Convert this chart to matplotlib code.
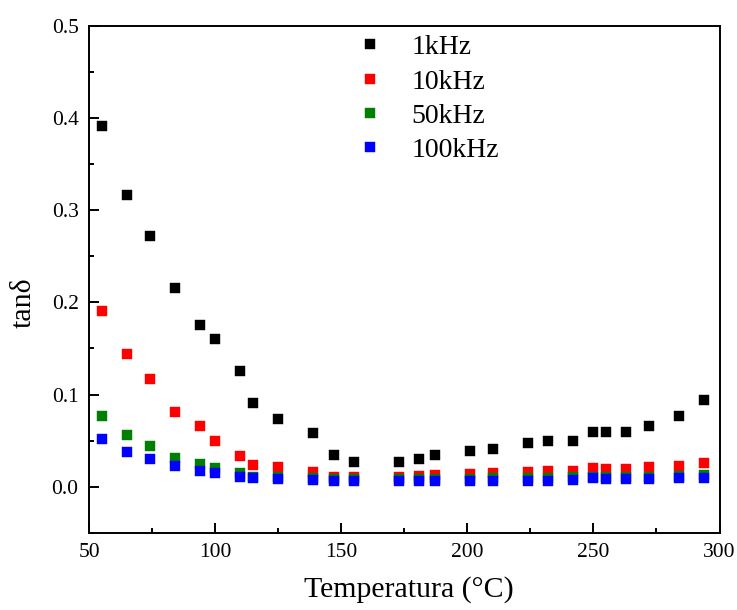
import matplotlib
matplotlib.use('Agg')
import matplotlib.pyplot as plt
from matplotlib.ticker import MultipleLocator, FormatStrFormatter

# Measurement temperatures (°C)
temperature = [55, 65, 74, 84, 94, 100, 110, 115, 125, 139, 147, 155, 173, 181, 187,
               201, 210, 224, 232, 242, 250, 255, 263, 272, 284, 294]

# Loss tangent at each frequency
tan_1khz = [0.391, 0.317, 0.272, 0.216, 0.176, 0.160, 0.126, 0.091, 0.074, 0.058, 0.034,
            0.027, 0.027, 0.030, 0.034, 0.039, 0.041, 0.047, 0.050, 0.050, 0.059, 0.059,
            0.059, 0.066, 0.077, 0.094]
tan_10khz = [0.191, 0.144, 0.117, 0.081, 0.066, 0.050, 0.033, 0.024, 0.021, 0.016, 0.011,
             0.010, 0.011, 0.012, 0.013, 0.014, 0.015, 0.016, 0.017, 0.017, 0.020, 0.019,
             0.019, 0.021, 0.023, 0.026]
tan_50khz = [0.077, 0.056, 0.044, 0.031, 0.025, 0.020, 0.015, 0.011, 0.010, 0.009, 0.008,
             0.008, 0.008, 0.008, 0.008, 0.008, 0.009, 0.0095, 0.0095, 0.010, 0.0105, 0.0105,
             0.0105, 0.011, 0.012, 0.013]
tan_100khz = [0.052, 0.038, 0.030, 0.022, 0.017, 0.015, 0.011, 0.009, 0.008, 0.007, 0.006,
              0.006, 0.006, 0.006, 0.006, 0.006, 0.006, 0.0065, 0.0065, 0.007, 0.009, 0.008,
              0.008, 0.008, 0.009, 0.009]

labels = ['1kHz', '10kHz', '50kHz', '100kHz']
colors = ['black', 'red', 'green', 'blue']

plt.rcParams['font.family'] = ['Liberation Serif', 'DejaVu Serif']

fig = plt.figure(figsize=(7.37, 6.10), dpi=100)
ax = fig.add_axes([0.1208, 0.1266, 0.8555, 0.8309])

for series, lab, col in zip([tan_1khz, tan_10khz, tan_50khz, tan_100khz], labels, colors):
    ax.plot(temperature, series, linestyle='none', marker='s', markersize=7.7,
            color=col, markeredgecolor=col, markeredgewidth=0.3, label=lab)

ax.set_xlim(50, 300)
ax.set_ylim(-0.05, 0.5)
ax.xaxis.set_major_locator(MultipleLocator(50))
ax.xaxis.set_minor_locator(MultipleLocator(25))
ax.yaxis.set_major_locator(MultipleLocator(0.1))
ax.yaxis.set_minor_locator(MultipleLocator(0.05))
ax.yaxis.set_major_formatter(FormatStrFormatter('%.1f'))

ax.tick_params(which='both', direction='in', width=1.4, labelsize=15.5, top=False, right=False)
ax.tick_params(which='major', length=7.5, pad=7.5)
ax.tick_params(which='minor', length=3.8)
for sp in ax.spines.values():
    sp.set_linewidth(1.4)

ax.set_xlabel('Temperatura (°C)', fontsize=21.5)
ax.set_ylabel('tanδ', fontsize=21.5)
ax.xaxis.set_label_coords(0.508, -0.085)
ax.yaxis.set_label_coords(-0.083, 0.453)

ax.legend(loc='upper left', bbox_to_anchor=(0.389, 1.021), frameon=False, fontsize=20,
          borderpad=0.2, handlelength=1.2, handletextpad=0.88, labelspacing=0.32)

fig.savefig('out.png', dpi=100)
